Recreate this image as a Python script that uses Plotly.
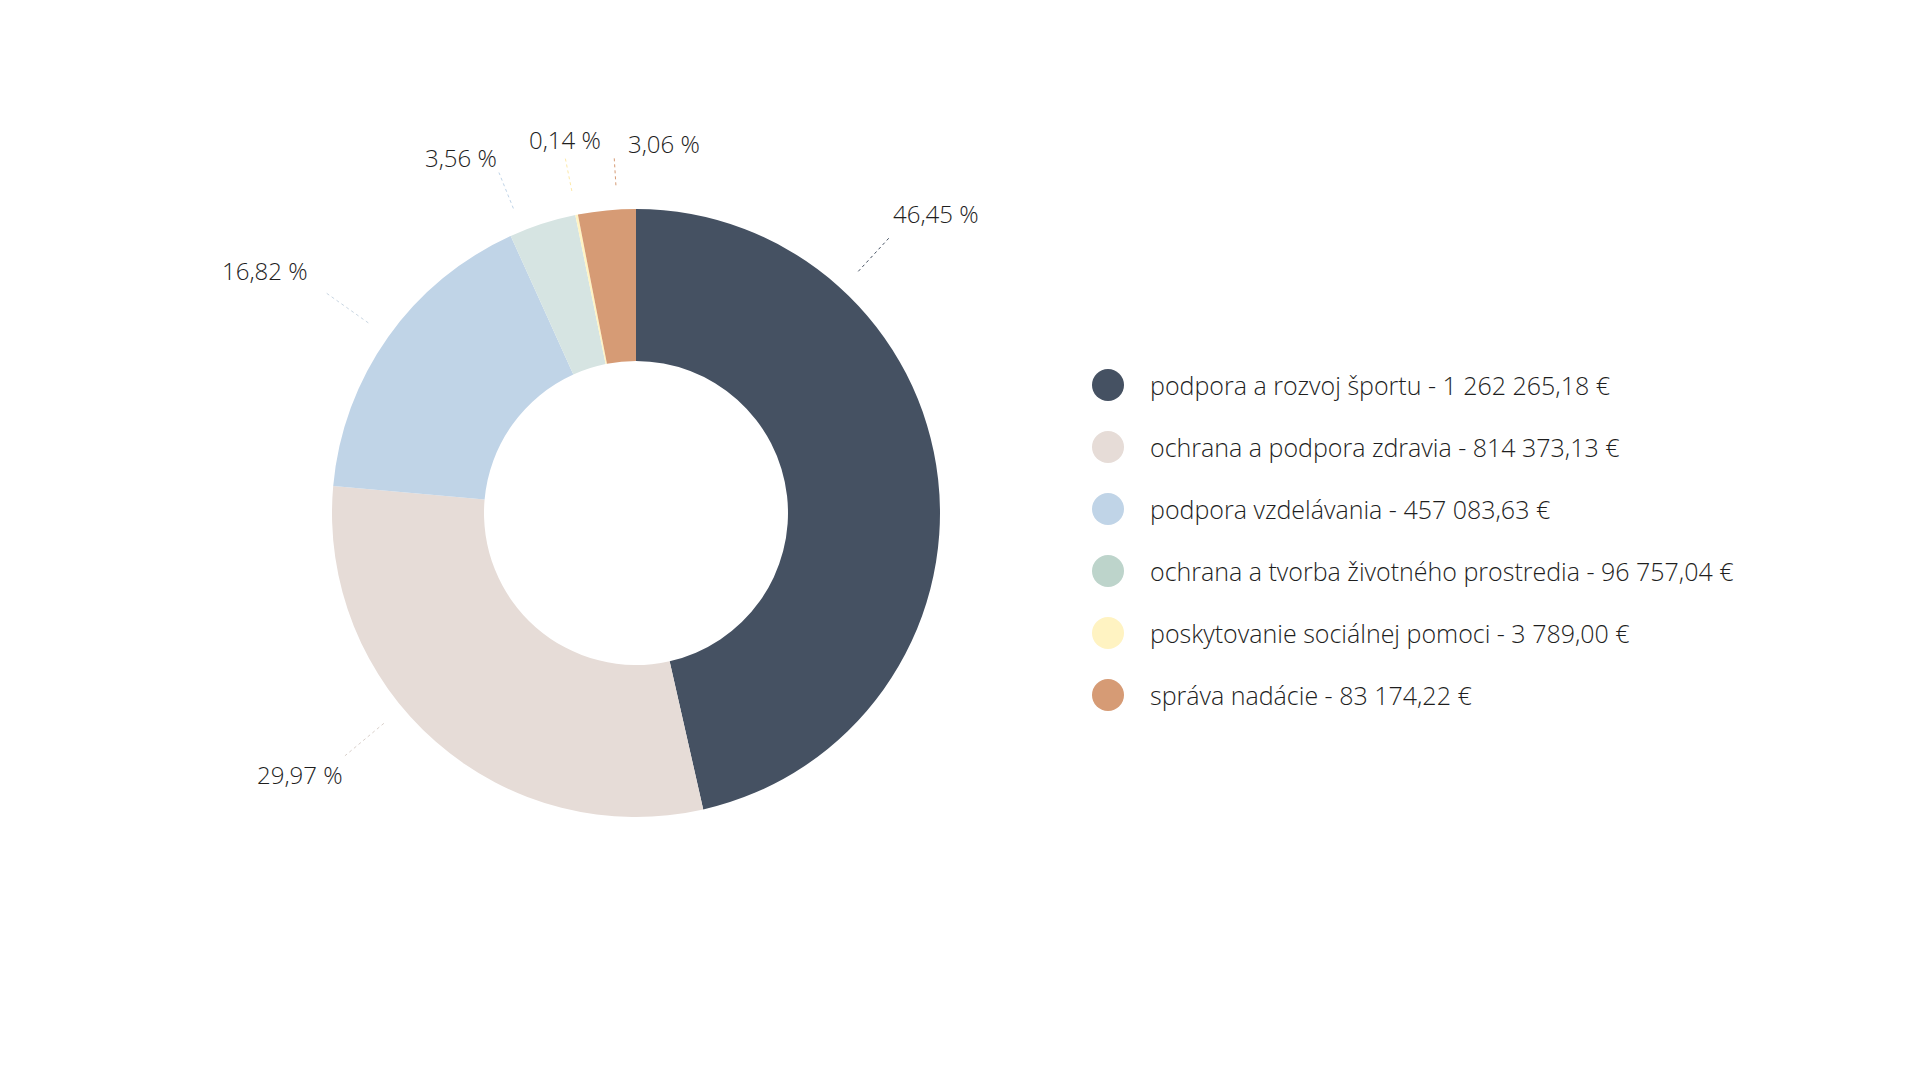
import math
import plotly.graph_objects as go

# data
categories = [
    "podpora a rozvoj športu",
    "ochrana a podpora zdravia",
    "podpora vzdelávania",
    "ochrana a tvorba životného prostredia",
    "poskytovanie sociálnej pomoci",
    "správa nadácie",
]
amounts = [1262265.18, 814373.13, 457083.63, 96757.04, 3789.00, 83174.22]

slice_colors = ["#455162", "#e6dcd7", "#c0d4e7", "#d6e4e2", "#fff3c2", "#d69b75"]
legend_colors = ["#455162", "#e6dcd7", "#c0d4e7", "#bdd4cb", "#fff3c2", "#d69b75"]
line_colors = ["#455162", "#d9d0cb", "#c9d6e2", "#c0d4e7", "#fde9a8", "#d69b75"]
# small nudges of label angle (deg) and text (px) to mimic the original placement
label_shift = [-41, 9, 0, -4, 0, 2]
text_dx = [0, 0, -16, 0, 0, 12]
text_dy = [0, 0, 0, 7, 4, 10]

W, H = 1920, 1080
PAGE_OFF = 8  # body margin of the html page
CX, CY, R = 636, 513, 304
FONT = "Open Sans"
TEXT = "#1e1e1e"


def px(x):
    return (x - PAGE_OFF) / W


def py(y):
    return 1 - (y - PAGE_OFF) / H


def money(v):
    return f"{v:,.2f}".replace(",", " ").replace(".", ",") + " €"


total = sum(amounts)

fig = go.Figure()
fig.add_trace(go.Pie(
    labels=categories,
    values=amounts,
    hole=0.5,
    sort=False,
    direction="clockwise",
    rotation=0,
    textinfo="none",
    marker=dict(colors=slice_colors, line=dict(width=0)),
    showlegend=False,
    domain=dict(x=[px(CX - R), px(CX + R)], y=[py(CY + R), py(CY - R)]),
))

shapes = []
annotations = []

# percentage labels with leader lines
cum = 0
for i, v in enumerate(amounts):
    mid = (cum + v / 2) / total * 360 + label_shift[i]
    cum += v
    a = math.radians(mid)
    s, c = math.sin(a), math.cos(a)
    r2 = 1.17 + 0.1 * abs(s)
    x1, y1 = CX + 1.08 * R * s, CY - 1.08 * R * c
    x2, y2 = CX + r2 * R * s, CY - r2 * R * c
    shapes.append(dict(type="line", xref="paper", yref="paper",
                       x0=px(x1), y0=py(y1), x1=px(x2), y1=py(y2),
                       line=dict(color=line_colors[i], width=1, dash="dot")))
    if s > -0.1:
        xa = "left"
    elif s < -0.25:
        xa = "right"
    else:
        xa = "center"
    ya = "bottom" if c > 0 else "top"
    pct = f"{v / total * 100:.2f}".replace(".", ",") + " %"
    annotations.append(dict(
        x=px(x2 + text_dx[i]), y=py(y2 + text_dy[i]), xref="paper", yref="paper",
        text=pct, showarrow=False, xanchor=xa, yanchor=ya,
        yshift=4 if c > 0 else 0,
        font=dict(family=FONT, size=24, color=TEXT, weight=300),
    ))

# custom legend with round markers
for i, (name, v) in enumerate(zip(categories, amounts)):
    ly = 385 + i * 62
    shapes.append(dict(type="circle", xref="paper", yref="paper",
                       x0=px(1108 - 16), x1=px(1108 + 16),
                       y0=py(ly + 16), y1=py(ly - 16),
                       fillcolor=legend_colors[i], line=dict(width=0)))
    annotations.append(dict(
        x=px(1148), y=py(ly), xref="paper", yref="paper",
        text=f"{name} - {money(v)}", showarrow=False,
        xanchor="left", yanchor="middle",
        font=dict(family=FONT, size=25, color=TEXT, weight=300),
    ))

fig.update_layout(
    width=W, height=H,
    margin=dict(l=0, r=0, t=0, b=0),
    paper_bgcolor="white",
    plot_bgcolor="white",
    shapes=shapes,
    annotations=annotations,
    showlegend=False,
)

fig.write_html("out.html")
